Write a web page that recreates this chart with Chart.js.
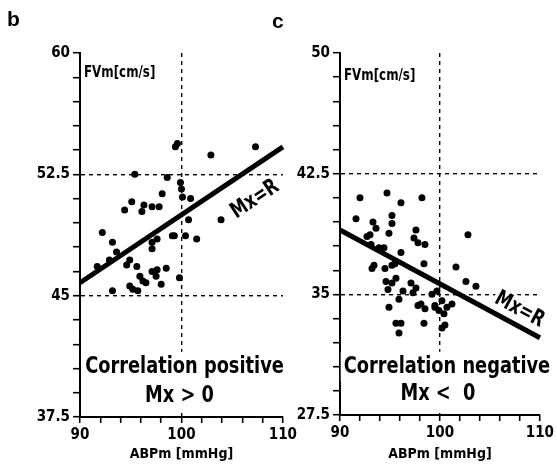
<!DOCTYPE html>
<html>
<head>
<meta charset="utf-8">
<script src="https://cdn.jsdelivr.net/npm/chart.js@4.4.1/dist/chart.umd.min.js"></script>
<style>
  body { margin: 0; background: #fff; }
  #wrap { position: relative; width: 557px; height: 466px; overflow: hidden; background: #fff; }
  .panel { position: absolute; top: 0; height: 466px; }
  .tag { position: absolute; font: bold 21px "Liberation Sans", Arial, sans-serif; color: #000; }
</style>
</head>
<body>
<div id="wrap">
  <div class="panel" style="left:0;width:300px"><canvas id="chartB"></canvas></div>
  <div class="panel" style="left:258px;width:299px"><canvas id="chartC"></canvas></div>
  <div class="tag" style="left:7px;top:7px">b</div>
  <div class="tag" style="left:272px;top:9px">c</div>
</div>
<script>
// panel b : correlacion positiva
const posABP = [99.4, 99.6, 95.4, 98.6, 98.1, 95.1, 94.4, 96.3, 96.1, 97.1, 97.8, 99.9, 100.0, 100.1,
  100.9, 102.9, 107.3, 103.9, 100.7, 99.3, 100.4, 101.5, 92.2, 93.2, 93.6, 92.9, 91.7, 94.6, 94.9,
  95.6, 95.9, 96.2, 96.5, 94.9, 95.2, 95.7, 93.2, 97.1, 97.1, 97.6, 99.1, 97.1, 97.6, 97.5, 98.5,
  98.0, 99.8];
const posFVm = [54.2, 54.4, 52.5, 52.3, 51.3, 50.8, 50.3, 50.6, 50.2, 50.5, 50.5, 52.0, 51.6, 51.1,
  51.0, 53.7, 54.2, 49.7, 49.7, 48.7, 48.7, 48.5, 48.9, 48.3, 47.7, 47.2, 46.8, 46.9, 47.2,
  46.8, 46.2, 45.9, 45.8, 45.6, 45.4, 45.3, 45.3, 48.3, 47.9, 48.5, 48.7, 46.5, 46.6, 46.2, 46.7,
  45.7, 46.1];
const posFit = [45.8, 54.2];

// panel c : correlacion negativa
const negABP = [92.0, 94.7, 96.1, 98.2, 91.6, 93.3, 93.6, 95.2, 95.2, 93.0, 94.9, 97.6, 97.4, 97.8,
  98.5, 94.4, 96.1, 98.4, 93.4, 102.8, 101.6, 102.6, 103.6, 93.1, 93.9, 92.7, 93.2, 94.5, 95.2,
  95.6, 95.2, 94.8, 97.1, 97.6, 97.3, 96.3, 95.9, 99.2, 94.9, 97.8, 98.5, 99.5, 95.6, 96.1, 95.9,
  98.4, 99.7, 100.2, 99.5, 100.7, 100.4, 100.5, 100.2, 94.6, 95.5, 98.1, 99.9, 101.2];
const negFVm = [41.0, 41.3, 40.7, 41.0, 39.7, 39.5, 39.1, 39.9, 39.4, 38.7, 38.8, 39.0, 38.5, 38.2,
  38.1, 37.9, 37.6, 36.9, 36.8, 38.7, 36.7, 35.8, 35.5, 38.1, 37.9, 38.6, 36.6, 36.6, 36.8,
  36.0, 35.7, 35.3, 35.7, 35.4, 35.1, 35.2, 34.7, 35.0, 34.2, 34.3, 34.1, 34.3, 33.2, 33.2, 32.6,
  33.2, 35.2, 34.6, 34.2, 34.2, 33.8, 33.1, 32.9, 35.8, 36.9, 34.4, 34.0, 34.4];
const negFit = [39.0, 32.3];

const xRange = [90, 110];
const xLabels = [90, 100, 110];
const yLabelsB = [60, 52.5, 45, 37.5];
const yLabelsC = [50, 42.5, 35, 27.5];

const FONT = '"DejaVu Sans Condensed", "Liberation Sans Narrow", sans-serif';

function toPoints(xs, ys) {
    return xs.map((x, i) => ({ x: x, y: ys[i] }));
}

function isIn(list, v) {
    return list.some(l => Math.abs(l - v) < 1e-6);
}

// escribe texto estrechado horizontalmente
function narrowText(ctx, text, x, y, sx) {
    ctx.save();
    ctx.translate(x, y);
    ctx.scale(sx, 1);
    ctx.fillText(text, 0, 0);
    ctx.restore();
}

// textos dibujados sobre el grafico
const notesPlugin = {
    id: 'notes',
    afterDatasetsDraw(chart, args, opts) {
        const ctx = chart.ctx;
        const sx = chart.scales.x, sy = chart.scales.y;
        ctx.save();
        ctx.fillStyle = '#000';
        ctx.textBaseline = 'middle';

        // etiqueta del eje y
        ctx.font = 'bold 15px ' + FONT;
        ctx.textAlign = 'left';
        narrowText(ctx, 'FVm[cm/s]', chart.chartArea.left + 4, chart.chartArea.top + opts.unitDy, 0.88);

        // Mx=R a lo largo de la recta
        const p1 = { x: sx.getPixelForValue(xRange[0]), y: sy.getPixelForValue(opts.fit[0]) };
        const p2 = { x: sx.getPixelForValue(xRange[1]), y: sy.getPixelForValue(opts.fit[1]) };
        const ang = Math.atan2(p2.y - p1.y, p2.x - p1.x);
        ctx.save();
        ctx.translate(sx.getPixelForValue(opts.mx[0]), sy.getPixelForValue(opts.mx[1]));
        ctx.rotate(ang);
        ctx.font = 'bold 22px ' + FONT;
        ctx.textAlign = 'center';
        const w = ctx.measureText('Mx=R').width * 0.82;
        ctx.fillStyle = '#fff';
        ctx.fillRect(-w / 2 - 2, -11, w + 4, 22);
        ctx.fillStyle = '#000';
        narrowText(ctx, 'Mx=R', 0, 1, 0.82);
        ctx.restore();

        // texto de correlacion
        ctx.font = 'bold 23px ' + FONT;
        ctx.textAlign = 'center';
        opts.lines.forEach(l => {
            const x = sx.getPixelForValue(l.x), y = sy.getPixelForValue(l.y);
            const lw = ctx.measureText(l.text).width * 0.86;
            ctx.fillStyle = '#fff';
            ctx.fillRect(x - lw / 2 - 3, y - 15, lw + 6, 30);
            ctx.fillStyle = '#000';
            narrowText(ctx, l.text, x, y, 0.86);
        });
        ctx.restore();
    }
};

function makeChart(id, cfg) {
    const c = document.getElementById(id).getContext('2d');
    return new Chart(c, {
        type: 'scatter',
        data: {
            datasets: [{
                data: toPoints(cfg.xs, cfg.ys),
                backgroundColor: '#000',
                borderColor: '#000',
                pointRadius: 3.5,
                pointBorderWidth: 0
            }, {
                data: toPoints(xRange, cfg.fit),
                showLine: true,
                borderColor: '#000',
                borderWidth: 5,
                pointRadius: 0,
                clip: 4
            }]
        },
        options: {
            responsive: true,
            maintainAspectRatio: false,
            animation: false,
            layout: { padding: { left: 0, right: cfg.padRight, top: 53, bottom: 0 } },
            plugins: {
                legend: { display: false },
                tooltip: { enabled: false },
                notes: { fit: cfg.fit, mx: cfg.mx, lines: cfg.lines, unitDy: cfg.unitDy }
            },
            scales: {
                x: {
                    type: 'linear',
                    min: xRange[0],
                    max: xRange[1],
                    afterFit: s => { s.height = cfg.xHeight; },
                    ticks: {
                        stepSize: 2,
                        autoSkip: false,
                        maxRotation: 0,
                        padding: 3,
                        color: '#000',
                        font: { family: FONT, size: 15, weight: 'bold' },
                        callback: v => isIn(xLabels, v) ? String(v) : ''
                    },
                    grid: {
                        color: ctx => (ctx.tick && Math.abs(ctx.tick.value - 100) < 1e-6) ? '#000' : 'rgba(0,0,0,0)',
                        lineWidth: 1.4,
                        tickColor: '#000',
                        tickWidth: 1.6,
                        tickLength: 6
                    },
                    border: { display: true, color: '#000', width: 2, dash: [4, 4] },
                    title: {
                        display: true,
                        text: 'ABPm [mmHg]',
                        color: '#000',
                        padding: { top: 0, bottom: 3 },
                        font: { family: FONT, size: 14, weight: 'bold' }
                    }
                },
                y: {
                    min: cfg.yRange[0],
                    max: cfg.yRange[1],
                    afterFit: s => { s.width = cfg.yWidth; },
                    ticks: {
                        stepSize: 1.5,
                        autoSkip: false,
                        padding: 3,
                        color: '#000',
                        font: { family: FONT, size: 15, weight: 'bold' },
                        callback: v => isIn(cfg.yLabels, v) ? String(v) : ''
                    },
                    grid: {
                        color: ctx => (ctx.tick && isIn(cfg.refLines, ctx.tick.value)) ? '#000' : 'rgba(0,0,0,0)',
                        lineWidth: 1.4,
                        tickColor: '#000',
                        tickWidth: 1.6,
                        tickLength: 7
                    },
                    border: { display: true, color: '#000', width: 2, dash: [4, 4] }
                }
            }
        },
        plugins: [notesPlugin]
    });
}

makeChart('chartB', {
    xs: posABP, ys: posFVm, fit: posFit,
    yRange: [37.5, 60], yLabels: yLabelsB, refLines: [52.5, 45],
    yWidth: 80, xHeight: 49, padRight: 15, unitDy: 20,
    mx: [107.2, 51.0],
    lines: [{ text: 'Correlation positive', x: 100.3, y: 40.6 },
            { text: 'Mx > 0', x: 99.8, y: 38.8 }]
});

makeChart('chartC', {
    xs: negABP, ys: negFVm, fit: negFit,
    yRange: [27.5, 50], yLabels: yLabelsC, refLines: [42.5, 35],
    yWidth: 82, xHeight: 51, padRight: 11, unitDy: 23,
    mx: [108.0, 34.1],
    lines: [{ text: 'Correlation negative', x: 100.7, y: 30.5 },
            { text: 'Mx <  0', x: 99.8, y: 28.8 }]
});
</script>
</body>
</html>
